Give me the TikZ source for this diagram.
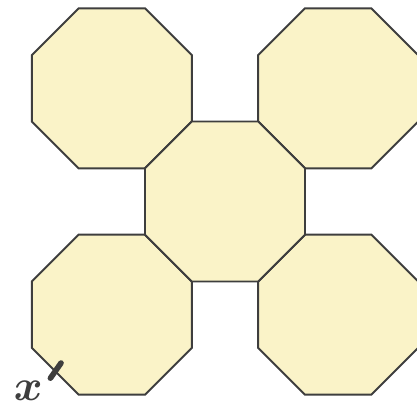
\documentclass[tikz,border=0pt]{standalone}
\usepackage{amsmath,amssymb}
\usepackage{bm}
\usetikzlibrary{calc, shapes.geometric, positioning}
\definecolor{octfill}{RGB}{250,243,200}
\definecolor{octline}{RGB}{62,62,62}

\begin{document}
\begin{tikzpicture}[octagon/.style={regular polygon, regular polygon sides=8, minimum size=3.464cm, inner sep=0pt, draw=octline, fill=octfill, line width=1.1pt}]
\useasboundingbox (0,0) rectangle (8.34,8.2);
\clip (0,0) rectangle (8.34,8.2);
\coordinate (M) at (4.5,4.17);
\node[octagon] (tl) at ($(M)+(-2.263,2.263)$) {};
\node[octagon] (tr) at ($(M)+(2.263,2.263)$) {};
\node[octagon] (bl) at ($(M)+(-2.263,-2.263)$) {};
\node[octagon] (br) at ($(M)+(2.263,-2.263)$) {};
\node[octagon] (c) at (M) {};
% mark on one side
\coordinate (E) at ($(bl.center)+(225:1.6)$);
\draw[octline, line width=3.2pt, line cap=round] ($(E)+(55:0.2)$)--($(E)+(235:0.17)$);
\node[octline, inner sep=0pt] at ($(E)+(-0.54,-0.4)$) {\fontsize{24}{24}\selectfont$\bm{x}$};
\end{tikzpicture}
\end{document}
